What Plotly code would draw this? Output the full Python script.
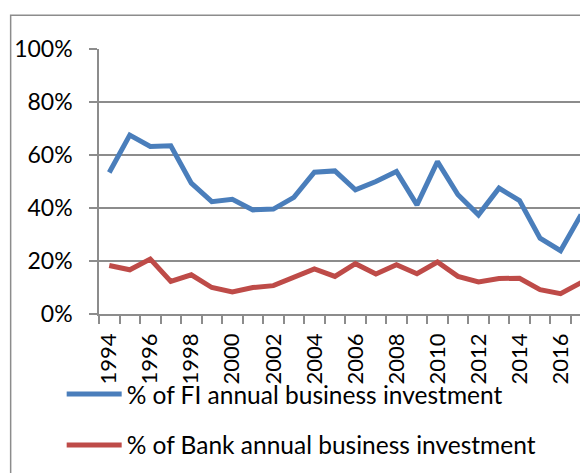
import plotly.graph_objects as go

years = list(range(1994, 2018))
fi_share = [53.4, 67.5, 63.2, 63.5, 49.4, 42.4, 43.3, 39.3, 39.6, 44.0, 53.5, 54.0,
            46.9, 50.0, 53.8, 41.2, 57.5, 45.0, 37.4, 47.5, 42.8, 28.6, 23.9, 37.5]
bank_share = [18.3, 16.7, 20.7, 12.3, 14.8, 10.0, 8.3, 10.0, 10.7, 13.8, 17.0, 14.2,
              19.0, 15.1, 18.6, 15.2, 19.6, 14.2, 12.1, 13.4, 13.5, 9.2, 7.7, 11.8]
tick_years = list(range(1994, 2017, 2))
y_ticks = [0, 0.2, 0.4, 0.6, 0.8, 1.0]

FONT = "Lato"
GRID = "#8c8c8c"

fig = go.Figure()
fig.add_trace(go.Scatter(
    x=years, y=[v / 100 for v in fi_share], mode="lines",
    name="% of FI annual business investment", legendgroup="a",
    line=dict(color="#4a7ebb", width=5, shape="linear")))
fig.add_trace(go.Scatter(
    x=years, y=[v / 100 for v in bank_share], mode="lines",
    name="% of Bank annual business investment", legendgroup="b",
    line=dict(color="#be4b48", width=5, shape="linear")))

L, T, B = 99.3, 49.0, 473 - 314.3
W = 580 - L
H = 314.3 - T

fig.update_layout(
    width=580, height=473,
    margin=dict(l=L, r=0, t=T, b=B, pad=0),
    paper_bgcolor="white", plot_bgcolor="white",
    font=dict(family=FONT, size=23, color="black"),
    showlegend=True,
    legend=dict(x=(62 - L) / W, xanchor="left", y=(314.3 - 372) / H, yanchor="top",
                bgcolor="rgba(0,0,0,0)", font=dict(family=FONT, size=24.5),
                tracegroupgap=16, itemwidth=55),
    xaxis=dict(range=[1993.5, 1993.5 + W / 20.5], tickmode="array",
               tickvals=tick_years, ticktext=[str(y) for y in tick_years],
               tickangle=-90, ticks="", showgrid=False, zeroline=False,
               showline=True, linecolor=GRID, linewidth=1.5,
               tickfont=dict(family=FONT, size=22),
               minor=dict(tick0=1993.5, dtick=1, ticks="outside", ticklen=8,
                          tickcolor=GRID, tickwidth=1.5, showgrid=False),
               ticklabelstandoff=9),
    yaxis=dict(range=[0, 1], tickmode="array", tickvals=y_ticks,
               tickformat=".0%", ticks="outside", ticklen=8, tickcolor=GRID,
               tickwidth=1.5, showgrid=True, gridcolor=GRID, gridwidth=1.5,
               zeroline=False, showline=True, linecolor=GRID, linewidth=1.5,
               tickfont=dict(family=FONT, size=23),
               ticklabelstandoff=12),
    shapes=[dict(type="rect", xref="paper", yref="paper",
                 x0=(11 - L) / W, x1=1.2, y0=-0.8, y1=(314.3 - 15.3) / H,
                 line=dict(color="#8c8c8c", width=1.5), fillcolor="rgba(0,0,0,0)",
                 layer="below")],
)

fig.write_html("out.html")
